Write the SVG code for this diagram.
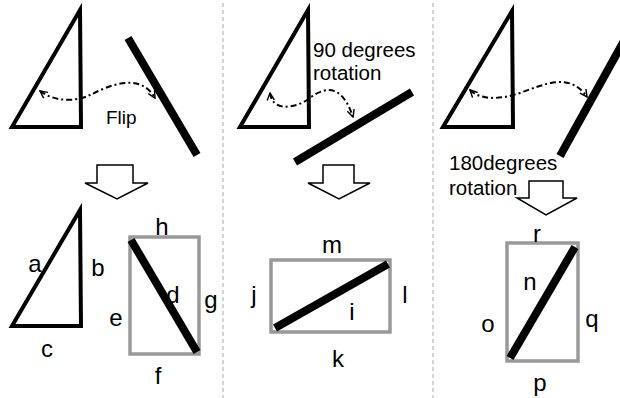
<svg xmlns="http://www.w3.org/2000/svg" width="620" height="398" viewBox="0 0 620 398">
<defs>
<style>
.tri{fill:none;stroke:#000;stroke-width:4;stroke-linejoin:miter}
.bar{stroke:#000;stroke-width:8;stroke-linecap:butt}
.box{fill:none;stroke:#999;stroke-width:3.5}
.sep{stroke:#aaa;stroke-width:1;stroke-dasharray:4 3}
.curve{fill:none;stroke:#000;stroke-width:2;stroke-dasharray:6 3 2 3}
.blk{fill:#fff;stroke:#000;stroke-width:1.5;stroke-linejoin:miter}
.t{font-family:"Liberation Sans",Arial,sans-serif;font-size:20.5px;fill:#000}
.lbl{font-family:"Liberation Sans",Arial,sans-serif;font-size:24px;fill:#000;text-anchor:middle}
</style>
<marker id="ah" viewBox="0 0 10 10" refX="9" refY="5" markerWidth="9" markerHeight="9" markerUnits="userSpaceOnUse" orient="auto-start-reverse">
<path d="M1,1 L9,5 L1,9" fill="none" stroke="#000" stroke-width="1.6"/>
</marker>
</defs>
<g id="separators">
<line class="sep" x1="223" y1="3" x2="223" y2="398"/>
<line class="sep" x1="433" y1="3" x2="433" y2="398"/>
</g>
<g id="panel1-top">
<polygon class="tri" points="80,10 12,127 81,127"/>
<line class="bar" x1="128" y1="38" x2="197" y2="155"/>
<text class="t" x="106" y="124" style="font-size:19px">Flip</text>
</g>
<g id="panel2-top">
<polygon class="tri" points="308,10 240,127 309,127"/>
<line class="bar" x1="295" y1="162" x2="412" y2="92"/>
<text class="t" x="313" y="57">90 degrees</text>
<text class="t" x="313" y="80">rotation</text>
</g>
<g id="panel3-top">
<polygon class="tri" points="512,11 443,127 513,127"/>
<line class="bar" x1="560" y1="156" x2="625" y2="39"/>
<text class="t" x="449" y="170">180degrees</text>
<text class="t" x="449" y="195">rotation</text>
</g>
<g id="connectors">
<path class="curve" d="M40,91 C55,102 75,102 90,95 C110,85 140,72 155,98" marker-start="url(#ah)" marker-end="url(#ah)"/>
<path class="curve" d="M270,93 C272,112 295,108 307,100 C320,90 340,78 353,117" marker-start="url(#ah)" marker-end="url(#ah)"/>
<path class="curve" d="M470,90 C480,100 500,100 520,93 C545,84 570,72 587,97" marker-start="url(#ah)" marker-end="url(#ah)"/>
<polygon class="blk" points="97,165 133,165 133,183 148,183 117,199 85,183 97,183"/>
<polygon class="blk" points="323,165 354,165 354,183 370,183 339,199 308,183 323,183"/>
<polygon class="blk" points="529,181 563,181 563,198 577,198 546,215 517,198 529,198"/>
</g>
<g id="panel1-bottom">
<polygon class="tri" points="80,210 12,326 81,326"/>
<rect class="box" x="130" y="237" width="69" height="117"/>
<line class="bar" x1="131" y1="240" x2="197" y2="352"/>
<text class="lbl" x="35" y="272">a</text>
<text class="lbl" x="98" y="276">b</text>
<text class="lbl" x="47" y="357">c</text>
<text class="lbl" x="162" y="235">h</text>
<text class="lbl" x="116" y="326">e</text>
<text class="lbl" x="173" y="303">d</text>
<text class="lbl" x="211" y="308">g</text>
<text class="lbl" x="158" y="384">f</text>
</g>
<g id="panel2-bottom">
<rect class="box" x="271" y="260" width="119" height="72"/>
<line class="bar" x1="275" y1="328" x2="388" y2="264"/>
<text class="lbl" x="332" y="253">m</text>
<text class="lbl" x="254" y="303">j</text>
<text class="lbl" x="405" y="303">l</text>
<text class="lbl" x="352" y="320">i</text>
<text class="lbl" x="338" y="367">k</text>
</g>
<g id="panel3-bottom">
<rect class="box" x="507" y="243" width="71" height="118"/>
<line class="bar" x1="510" y1="358" x2="575" y2="247"/>
<text class="lbl" x="537" y="242">r</text>
<text class="lbl" x="530" y="290">n</text>
<text class="lbl" x="488" y="332">o</text>
<text class="lbl" x="592" y="327">q</text>
<text class="lbl" x="540" y="391">p</text>
</g>
</svg>
